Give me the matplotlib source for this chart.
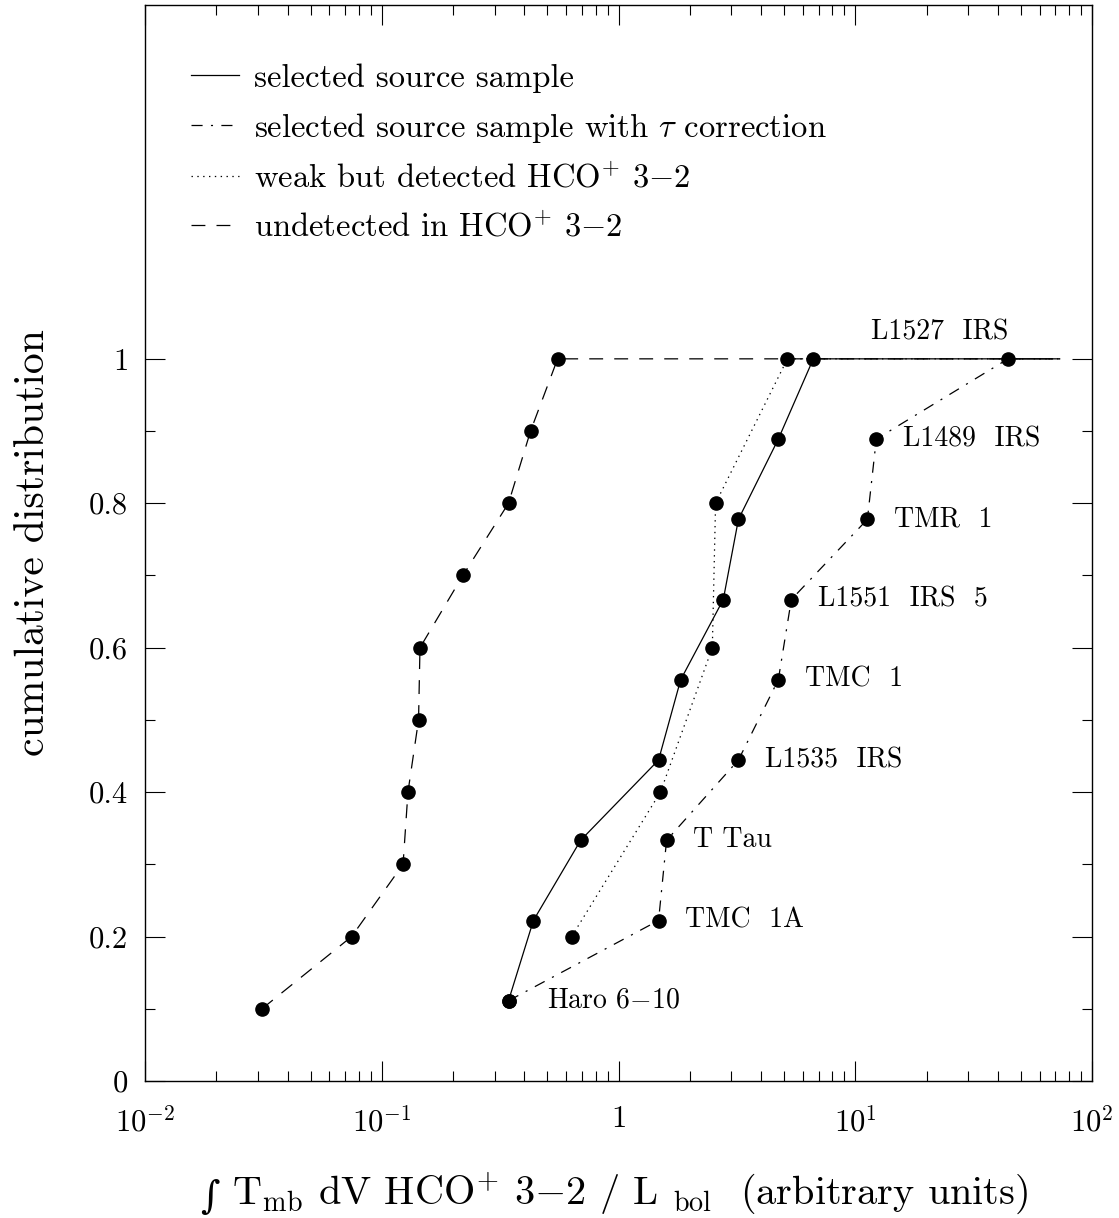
import numpy as np
import matplotlib
matplotlib.use("Agg")
import matplotlib.pyplot as plt
from matplotlib.ticker import FixedLocator, FixedFormatter

plt.rcParams['font.family'] = ['cmr10', 'DejaVu Serif']
plt.rcParams['mathtext.fontset'] = 'cm'
plt.rcParams['axes.formatter.use_mathtext'] = True
plt.rcParams['lines.scale_dashes'] = False

# selected source sample (solid)
sel_x = [0.343, 0.437, 0.692, 1.476, 1.83, 2.77, 3.21, 4.73, 6.65, 73]
sel_y = [1/9, 2/9, 3/9, 4/9, 5/9, 6/9, 7/9, 8/9, 1.0, 1.0]

# selected source sample with tau correction (dash-dot)
tau_x = [0.343, 1.476, 1.596, 3.21, 4.73, 5.37, 11.25, 12.27, 44.2, 73]
tau_y = [1/9, 2/9, 3/9, 4/9, 5/9, 6/9, 7/9, 8/9, 1.0, 1.0]
tau_names = ['Haro 6$-$10', 'TMC  1A', 'T Tau', 'L1535  IRS', 'TMC  1',
             'L1551  IRS  5', 'TMR  1', 'L1489  IRS', 'L1527  IRS']

# weak but detected (dotted)
weak_x = [0.634, 1.503, 2.49, 2.57, 5.17, 73]
weak_y = [0.2, 0.4, 0.6, 0.8, 1.0, 1.0]

# undetected (dashed)
und_x = [0.0312, 0.0746, 0.123, 0.129, 0.143, 0.145, 0.22, 0.343, 0.425, 0.553, 73]
und_y = [0.1, 0.2, 0.3, 0.4, 0.5, 0.6, 0.7, 0.8, 0.9, 1.0, 1.0]

fig = plt.figure(figsize=(11.19, 12.18), dpi=100)
ax = fig.add_axes([0.1296, 0.1125, 0.8463, 0.8834])

lw = 0.9
ax.plot(sel_x, sel_y, color='k', lw=lw, ls='-', label='selected source sample')
ax.plot(tau_x, tau_y, color='k', lw=lw, dashes=(8, 6, 1.5, 6),
        label=r'selected source sample with $\tau$ correction')
ax.plot(weak_x, weak_y, color='k', lw=lw, dashes=(1, 3.2),
        label=r'weak but detected $\mathrm{HCO}^{+}$ 3$-$2')
ax.plot(und_x, und_y, color='k', lw=lw, dashes=(10, 8),
        label=r'undetected in $\mathrm{HCO}^{+}$ 3$-$2')

# markers (not on the extension to the right edge)
for xs, ys in [(sel_x, sel_y), (tau_x, tau_y), (weak_x, weak_y), (und_x, und_y)]:
    ax.plot(xs[:-1], ys[:-1], 'o', color='k', ms=9.5, ls='none')

for i, name in enumerate(tau_names):
    if i == len(tau_names) - 1:
        ax.annotate(name, (tau_x[i], tau_y[i]), xytext=(0, 19), textcoords='offset points',
                    ha='right', va='center', fontsize=20)
    elif i == 0:
        ax.annotate(name, (tau_x[i], tau_y[i]), xytext=(28, 0), textcoords='offset points',
                    ha='left', va='center', fontsize=20)
    else:
        ax.annotate(name, (tau_x[i], tau_y[i]), xytext=(19, 0), textcoords='offset points',
                    ha='left', va='center', fontsize=20)

ax.set_xscale('log')
ax.set_xlim(0.01, 100)
ax.set_ylim(0, 1.49)

ax.xaxis.set_major_locator(FixedLocator([0.01, 0.1, 1, 10, 100]))
ax.xaxis.set_major_formatter(FixedFormatter([r'$10^{-2}$', r'$10^{-1}$', '1', r'$10^{1}$', r'$10^{2}$']))
minors = [m * 10.0**d for d in range(-2, 2) for m in range(2, 10)]
ax.xaxis.set_minor_locator(FixedLocator(minors))
ax.yaxis.set_major_locator(FixedLocator([0, 0.2, 0.4, 0.6, 0.8, 1.0]))
ax.yaxis.set_major_formatter(FixedFormatter(['0', '0.2', '0.4', '0.6', '0.8', '1']))
ax.yaxis.set_minor_locator(FixedLocator([0.1, 0.3, 0.5, 0.7, 0.9]))

ax.tick_params(which='both', direction='in', top=True, right=True, labelsize=22, width=0.8)
ax.tick_params(which='major', length=14.4, pad=12)
ax.tick_params(axis='x', which='major', pad=18)
ax.tick_params(which='minor', length=7.2)
for s in ax.spines.values():
    s.set_linewidth(1.0)

ax.set_xlabel(r'T$_{\rm mb}$ dV $\mathrm{HCO}^{+}$ 3$-$2 / L $_{\rm bol}$  (arbitrary units)',
              fontsize=29)
ax.xaxis.set_label_coords(0.512, -0.084)
ax.annotate('\u222b', xy=(0, 0.42), xycoords=ax.xaxis.label, xytext=(-9, 0),
            textcoords='offset points', ha='right', va='center',
            family='DejaVu Serif', fontsize=27)
ax.set_ylabel('cumulative distribution', fontsize=30, labelpad=27)

ax.legend(loc='upper left', bbox_to_anchor=(0.049, 0.946), frameon=False, fontsize=23.5,
          handlelength=1.47, handletextpad=0.45, labelspacing=0.55, borderpad=0, borderaxespad=0)

fig.savefig('out.png', dpi=100)
